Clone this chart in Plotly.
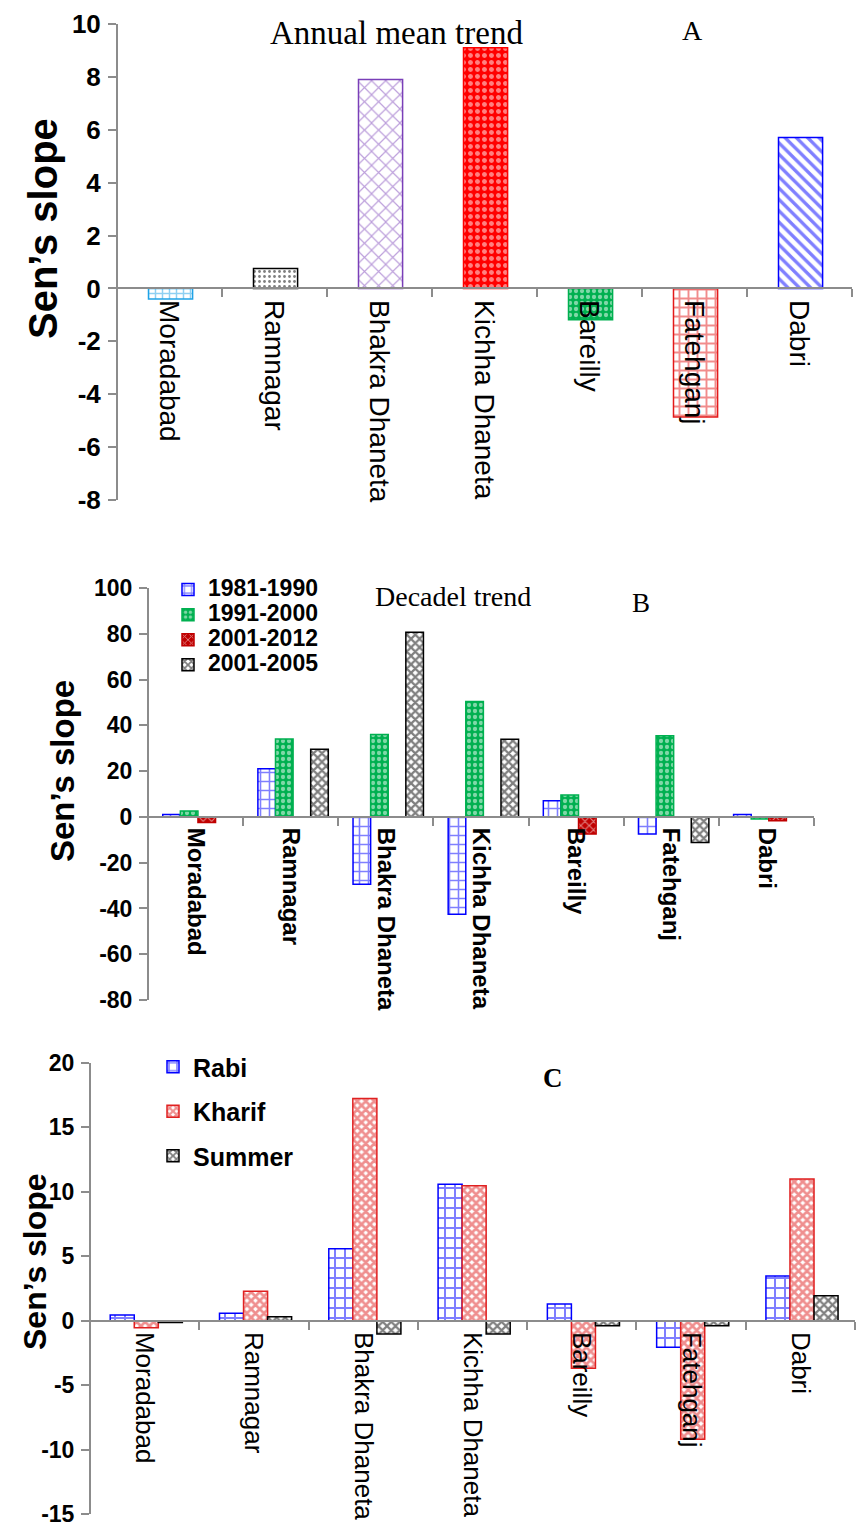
import plotly.graph_objects as go

W, H = 856, 1526

stations = ["Moradabad", "Ramnagar", "Bhakra Dhaneta", "Kichha Dhaneta", "Bareilly", "Fatehganj", "Dabri"]

# Panel A: annual mean trend
annual = [-0.4, 0.75, 7.9, 9.1, -1.18, -4.86, 5.71]
a_ticks = [-8, -6, -4, -2, 0, 2, 4, 6, 8, 10]
a_ticktext = ["-8", "-6", "-4", "-2", "0", "2", "4", "6", "8", "10"]

# Panel B: decadal trend
decades = ["1981-1990", "1991-2000", "2001-2012", "2001-2005"]
d1981_1990 = [1.0, 21.0, -29.4, -42.5, 7.0, -7.5, 1.0]
d1991_2000 = [2.6, 34.0, 36.0, 50.4, 9.6, 35.5, -0.9]
d2001_2012 = [-2.5, 0, 0, 0, -7.5, 0, -1.7]
d2001_2005 = [0, 29.6, 80.7, 33.9, 0, -11.2, 0]
b_ticks = [-80, -60, -40, -20, 0, 20, 40, 60, 80, 100]
b_ticktext = ["-80", "-60", "-40", "-20", "0", "20", "40", "60", "80", "100"]

# Panel C: seasonal trend
seasons = ["Rabi", "Kharif", "Summer"]
rabi = [0.44, 0.57, 5.59, 10.6, 1.29, -2.06, 3.47]
kharif = [-0.54, 2.29, 17.25, 10.48, -3.68, -9.2, 10.99]
summer = [-0.13, 0.3, -1.03, -1.03, -0.39, -0.39, 1.93]
c_ticks = [-15, -10, -5, 0, 5, 10, 15, 20]
c_ticktext = ["-15", "-10", "-5", "0", "5", "10", "15", "20"]


def px(x):
    return x / W


def py(y):
    return 1 - y / H


def zero_pos(dom, rng):
    return dom[0] + (0 - rng[0]) / (rng[1] - rng[0]) * (dom[1] - dom[0])


SANS = "Liberation Sans, Arial, sans-serif"
SERIF = "Liberation Serif, Times New Roman, serif"
AXC = "#8c8c8c"

fig = go.Figure()

# ---- Panel A (one bar per station, each with its own colour / hatch) ----
a_line = ["#1fa2e6", "#000000", "#7a3fb8", "#ff0000", "#00b050", "#e31a1a", "#0000ff"]
a_shapes = ["+", ".", "x", ".", ".", "+", "\\"]
a_fg = ["#1fa2e6", "#000000", "#7a3fb8", "#ffffff", "#ffffff", "#e31a1a", "#0000ff"]
a_bg = ["#ffffff", "#ffffff", "#ffffff", "#ff0000", "#00b050", "#ffffff", "#ffffff"]
a_size = [7, 5, 10, 7, 6, 9, 8]
a_sol = [0.38, 0.25, 0.22, 0.4, 0.4, 0.38, 0.42]
for i, st in enumerate(stations):
    fig.add_trace(go.Bar(
        x=[st], y=[annual[i]], xaxis="x", yaxis="y", showlegend=False, name=st,
        width=0.42, offset=-0.2,
        marker=dict(color=a_bg[i], line=dict(color=a_line[i], width=1.5),
                    pattern=dict(shape=a_shapes[i], fgcolor=a_fg[i], bgcolor=a_bg[i],
                                 fillmode="overlay", size=a_size[i], solidity=a_sol[i])),
    ))

# ---- Panel B ----
b_series = [d1981_1990, d1991_2000, d2001_2012, d2001_2005]
b_cols = ["#0000ff", "#00b050", "#c00000", "#000000"]
b_shapes = ["+", ".", "x", "x"]
b_fg = ["#0000ff", "#ffffff", "#ffffff", "#000000"]
b_bg = ["#ffffff", "#00b050", "#c00000", "#ffffff"]
b_size = [9, 6, 6, 6]
b_sol = [0.32, 0.4, 0.35, 0.6]
b_off = [-0.345, -0.16, 0.025, 0.21]
for name, vals, c, s, fg, bg, sz, so, off in zip(decades, b_series, b_cols, b_shapes, b_fg, b_bg,
                                                 b_size, b_sol, b_off):
    fig.add_trace(go.Bar(
        x=stations, y=vals, name='<span style="font-size:23px">' + name + "</span>",
        xaxis="x2", yaxis="y2", legend="legend",
        width=0.185, offset=off,
        marker=dict(color=bg, line=dict(color=c, width=1.5),
                    pattern=dict(shape=s, fgcolor=fg, bgcolor=bg, fillmode="overlay",
                                 size=sz, solidity=so)),
    ))

# ---- Panel C ----
c_series = [rabi, kharif, summer]
c_cols = ["#0000ff", "#e02020", "#000000"]
c_shapes = ["+", "x", "x"]
c_size = [10, 6, 6]
c_sol = [0.36, 0.7, 0.6]
c_off = [-0.315, -0.095, 0.125]
for name, vals, c, s, sz, so, off in zip(seasons, c_series, c_cols, c_shapes, c_size, c_sol, c_off):
    fig.add_trace(go.Bar(
        x=stations, y=vals, name=name, xaxis="x3", yaxis="y3", legend="legend2",
        legendgroup=name, width=0.22, offset=off,
        marker=dict(color="#ffffff", line=dict(color=c, width=1.5),
                    pattern=dict(shape=s, fgcolor=c, bgcolor="#ffffff", fillmode="overlay",
                                 size=sz, solidity=so)),
    ))

domA_x, domA_y, rngA = [px(117), px(852)], [py(500), py(24)], [-8, 10]
domB_x, domB_y, rngB = [px(148), px(814)], [py(1000), py(588)], [-80, 100]
domC_x, domC_y, rngC = [px(90), px(855)], [py(1514), py(1063)], [-15, 20]


def xaxis(dom, ydom, rng, fsize, bold):
    return dict(domain=dom, anchor="free", position=zero_pos(ydom, rng), automargin=False,
                type="category", showline=True, linecolor=AXC, linewidth=2,
                ticks="outside", tickson="boundaries", ticklen=8, tickcolor=AXC, tickwidth=2,
                tickangle=90, ticklabelstandoff=5, ticklabeloverflow="allow",
                showgrid=False, zeroline=False,
                tickfont=dict(family=SANS, size=fsize, color="#000000",
                              weight="bold" if bold else "normal"))


def yaxis(dom, xdom, rng, tv, tt, fsize):
    return dict(domain=dom, anchor="free", position=xdom[0], range=rng, automargin=False,
                tickmode="array", tickvals=tv, ticktext=tt, ticklabeloverflow="allow",
                ticklabelstandoff=2,
                showline=True, linecolor=AXC, linewidth=2, ticks="outside", ticklen=8,
                tickcolor=AXC, tickwidth=2, showgrid=False, zeroline=False,
                tickfont=dict(family=SANS, size=fsize, color="#000000", weight="bold"))


fig.update_layout(
    width=W, height=H, margin=dict(l=0, r=0, t=0, b=0, autoexpand=False),
    paper_bgcolor="#ffffff", plot_bgcolor="rgba(0,0,0,0)",
    barmode="overlay",
    xaxis=xaxis(domA_x, domA_y, rngA, 28, False),
    yaxis=yaxis(domA_y, domA_x, rngA, a_ticks, a_ticktext, 26),
    xaxis2=xaxis(domB_x, domB_y, rngB, 24, True),
    yaxis2=yaxis(domB_y, domB_x, rngB, b_ticks, b_ticktext, 23),
    xaxis3=xaxis(domC_x, domC_y, rngC, 26, False),
    yaxis3=yaxis(domC_y, domC_x, rngC, c_ticks, c_ticktext, 23),
    legend=dict(x=px(168), y=py(572), xanchor="left", yanchor="top",
                font=dict(family=SANS, size=17, color="#000000", weight="bold"),
                bgcolor="rgba(0,0,0,0)", tracegroupgap=0),
    legend2=dict(x=px(153), y=py(1044), xanchor="left", yanchor="top",
                 font=dict(family=SANS, size=25, color="#000000", weight="bold"),
                 bgcolor="rgba(0,0,0,0)", tracegroupgap=9),
)

ann = [
    dict(text="Annual mean trend", x=px(396), y=py(33), font=dict(family=SERIF, size=33)),
    dict(text="A", x=px(692), y=py(30), font=dict(family=SERIF, size=28)),
    dict(text="Decadel trend", x=px(453), y=py(596), font=dict(family=SERIF, size=28)),
    dict(text="B", x=px(641), y=py(603), font=dict(family=SERIF, size=27)),
    dict(text="<b>C</b>", x=px(553), y=py(1078), font=dict(family=SERIF, size=27)),
    dict(text="<b>Sen’s slope</b>", x=px(43), y=py(229), textangle=-90, font=dict(family=SANS, size=40)),
    dict(text="<b>Sen’s slope</b>", x=px(62), y=py(771), textangle=-90, font=dict(family=SANS, size=33)),
    dict(text="<b>Sen’s slope</b>", x=px(35), y=py(1262), textangle=-90, font=dict(family=SANS, size=32)),
]
for a in ann:
    a["xref"] = "paper"
    a["yref"] = "paper"
    a["showarrow"] = False
    a["xanchor"] = "center"
    a["yanchor"] = "middle"
    a["font"]["color"] = "#000000"
    fig.add_annotation(**a)

fig.write_html("out.html")
